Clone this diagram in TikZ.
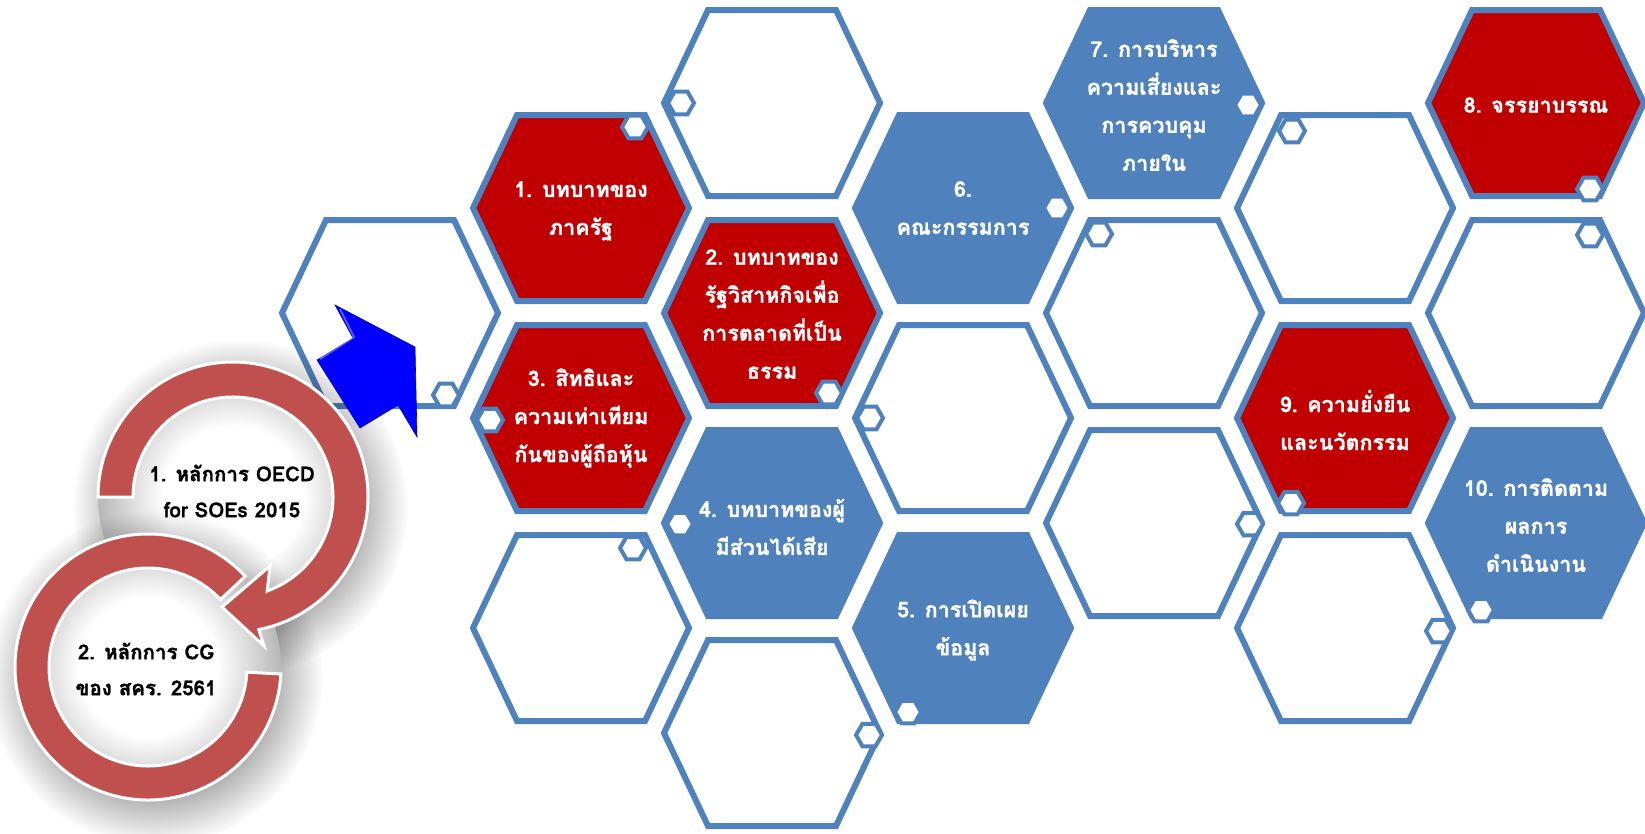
\documentclass[tikz,border=0pt]{standalone}
\usepackage{fontspec}
\newfontfamily\thaifont[Script=Thai, BoldFeatures={FakeBold=1.2}]{Loma}
\usetikzlibrary{shapes.geometric}
\usetikzlibrary{fadings}

\definecolor{hexblue}{HTML}{4F81BD}
\definecolor{hexred}{HTML}{C00000}
\definecolor{ringred}{HTML}{C0504D}
\definecolor{arrowblue}{HTML}{0000FF}

\pgfdeclareradialshading{discshade}{\pgfpointorigin}{color(0bp)=(white); color(13bp)=(white); color(25bp)=(black!28); color(50bp)=(black!28)}
\pgfdeclareradialshading{softdiscshade}{\pgfpointorigin}{color(0bp)=(white); color(16bp)=(white); color(25bp)=(black); color(50bp)=(black)}
\pgfdeclarefading{softdisc}{\pgfuseshading{softdiscshade}}

\newcommand{\hexcell}[2]{\draw[#1] (#2) ++(-108,0) -- ++(44,-93) -- ++(128,0) -- ++(44,93) -- ++(-44,93) -- ++(-128,0) -- cycle;}

\begin{document}
\begin{tikzpicture}[x=1pt, y=-1pt,
    blankhex/.style={draw=hexblue, line width=6pt, fill=white, line join=miter},
    redhex/.style={blankhex, fill=hexred},
    bluehex/.style={blankhex, fill=hexblue},
    knob/.style={regular polygon, regular polygon sides=6, draw=hexblue, fill=white, line width=4pt, minimum size=26pt, inner sep=0pt},
    hexlabel/.style={text=white, align=center, font=\thaifont\bfseries\fontsize{21.5}{38}\selectfont},
    ringlabel/.style={text=black, align=center, font=\thaifont\bfseries\fontsize{20.5}{36}\selectfont},
    ring/.style={fill=ringred, draw=white, line width=3pt, line join=miter},
    ringshadow/.style={fill=black, opacity=0.38, path fading=softdisc},
  ]
  \useasboundingbox (0,0) rectangle (1645,833);

  % empty cells
  \foreach \hx/\hy in {390/313, 581/628, 772/103, 772/733, 963/418,
                       1154/313, 1154/523, 1345/208, 1345/628, 1536/313}
    {\hexcell{blankhex}{\hx,\hy}}

  % coloured cells
  \hexcell{redhex}{581,208}
  \hexcell{redhex}{772,313}
  \hexcell{redhex}{581,418}
  \hexcell{bluehex}{772,523}
  \hexcell{bluehex}{963,628}
  \hexcell{bluehex}{963,208}
  \hexcell{bluehex}{1154,103}
  \hexcell{redhex}{1536,103}
  \hexcell{redhex}{1345,418}
  \hexcell{bluehex}{1536,523}

  % small knobs on the cells
  \foreach \kx/\ky [count=\k] in {446/395, 633/548, 681/103, 869/735, 870/418,
                                   1099/234, 1250/524, 1292/131, 1439/631, 1590/235,
                                   635/127, 829/393, 490/420, 680/524, 908/712,
                                   1057/208, 1248/105, 1590/189, 1291/503, 1481/610}
    {\node[knob] (knob\k) at (\kx,\ky) {};}

  % labels
  \node[hexlabel] (h1)  at (581,211)  {1. บทบาทของ\\ภาครัฐ};
  \node[hexlabel] (h2)  at (772,314)  {2. บทบาทของ\\รัฐวิสาหกิจเพื่อ\\การตลาดที่เป็น\\ธรรม};
  \node[hexlabel] (h3)  at (581,418)  {3. สิทธิและ\\ความเท่าเทียม\\กันของผู้ถือหุ้น};
  \node[hexlabel] (h4)  at (772,527)  {4. บทบาทของผู้\\มีส่วนได้เสีย};
  \node[hexlabel] (h5)  at (963,630)  {5. การเปิดเผย\\ข้อมูล};
  \node[hexlabel] (h6)  at (963,208)  {6.\\คณะกรรมการ};
  \node[hexlabel] (h7)  at (1154,105) {7. การบริหาร\\ความเสี่ยงและ\\การควบคุม\\ภายใน};
  \node[hexlabel] (h8)  at (1536,105) {8. จรรยาบรรณ};
  \node[hexlabel] (h9)  at (1345,420) {9. ความยั่งยืน\\และนวัตกรรม};
  \node[hexlabel] (h10) at (1536,525) {10. การติดตาม\\ผลการ\\ดำเนินงาน};

  % circular arrows
  \coordinate (oecdc) at (233,497);
  \coordinate (cgc)   at (148,667);

  \fill[ringshadow] (240,507) circle (168);
  \shade[shading=discshade] (oecdc) circle (135);
  \fill[ringshadow] (155,678) circle (168);
  \shade[shading=discshade] (cgc) circle (133);

  \draw[ring] ([shift={(cgc)}]-43:133) arc[start angle=-43, end angle=-357, radius=133]
    -- ([shift={(cgc)}]-357:99) arc[start angle=-357, end angle=-43, radius=99] -- cycle;
  \draw[ring] ([shift={(oecdc)}]180:135) arc[start angle=180, end angle=439, radius=135]
    -- (264,646) -- (222,607) -- (270,566)
    -- ([shift={(oecdc)}]430:100) arc[start angle=430, end angle=180, radius=100] -- cycle;

  \node[ringlabel] (oecd) at (232,491) {1. หลักการ OECD\\for SOEs 2015};
  \node[ringlabel] (cg)   at (146,669) {2. หลักการ CG\\ของ สคร. 2561};

  % blue block arrow
  \draw[fill=arrowblue, draw=arrowblue!70!black, line width=0.6pt, line join=miter]
    (335,305) -- (415,347) -- (417,437) -- (398,405) -- (360,428) -- (317,360) -- (353,338) -- cycle;
  \draw[white, opacity=0.35, line width=2pt] (320,359) -- (354,337) -- (340,309);
\end{tikzpicture}
\end{document}
